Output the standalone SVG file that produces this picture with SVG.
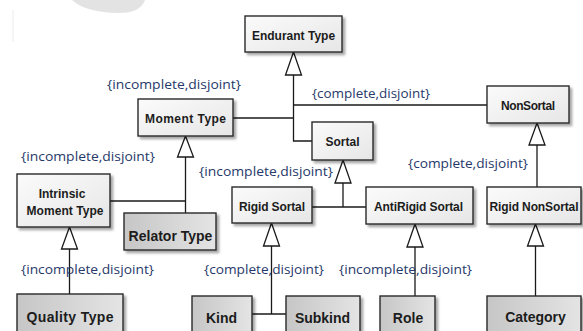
<svg xmlns="http://www.w3.org/2000/svg" width="583" height="331" viewBox="0 0 583 331">
  <defs>
    <linearGradient id="lightFill" x1="0" y1="0" x2="1" y2="1">
      <stop offset="0" stop-color="#fbfbfb"/>
      <stop offset="1" stop-color="#e6e6e6"/>
    </linearGradient>
    <linearGradient id="darkFill" x1="0" y1="0" x2="1" y2="0">
      <stop offset="0" stop-color="#c6c6c6"/>
      <stop offset="1" stop-color="#e4e4e4"/>
    </linearGradient>
    <filter id="shadow" x="-10%" y="-10%" width="130%" height="140%">
      <feDropShadow dx="2.5" dy="2.5" stdDeviation="1" flood-color="#000" flood-opacity="0.35"/>
    </filter>
  </defs>
  <style>
    .box { stroke: #2a2a2a; stroke-width: 1.4; filter: url(#shadow); }
    .light { fill: url(#lightFill); }
    .dark { fill: url(#darkFill); }
    .name { font-family: "Liberation Sans", Arial, sans-serif; font-weight: bold; font-size: 12px; fill: #1c1c1c; text-anchor: middle; }
    .big { font-size: 14px; }
    .set { font-family: "Open Sans", "DejaVu Sans", sans-serif; font-size: 12.5px; fill: #27396a; }
    .edge { fill: none; stroke: #1a1a1a; stroke-width: 1.3; }
    .tri { fill: #ffffff; stroke: #1a1a1a; stroke-width: 1.3; stroke-linejoin: miter; }
  </style>

  <rect width="583" height="331" fill="#ffffff"/>

  <!-- faint page marks in the upper left corner -->
  <path d="M72 0 C80 8 98 13 118 13 C132 13 141 10 145 0 Z" fill="#e3e3e3"/>
  <line x1="13" y1="10" x2="13" y2="42" stroke="#ececec" stroke-width="1"/>

  <!-- generalization connectors -->
  <g id="connectors">
    <!-- Endurant Type specializations -->
    <polygon class="tri" points="293.5,52 285.5,75 301.5,75"/>
    <path class="edge" d="M293.5 75 V141 H312"/>
    <path class="edge" d="M233 118 H293.5"/>
    <path class="edge" d="M293.5 105 H487"/>
    <!-- Moment Type specializations -->
    <polygon class="tri" points="185.5,136 177.5,157 193.5,157"/>
    <path class="edge" d="M185.5 157 V213"/>
    <path class="edge" d="M110 201 H185.5"/>
    <!-- Intrinsic Moment Type specializations -->
    <polygon class="tri" points="69.5,227 61.5,249 77.5,249"/>
    <path class="edge" d="M69.5 249 V294"/>
    <!-- Sortal specializations -->
    <polygon class="tri" points="343,160 335,183 351,183"/>
    <path class="edge" d="M343 183 V207"/>
    <path class="edge" d="M312 207 H366"/>
    <!-- Rigid Sortal specializations -->
    <polygon class="tri" points="271.5,223 263.5,246 279.5,246"/>
    <path class="edge" d="M271.5 246 V314"/>
    <path class="edge" d="M252 314 H286"/>
    <!-- AntiRigid Sortal specializations -->
    <polygon class="tri" points="415,224 407,247 423,247"/>
    <path class="edge" d="M415 247 V296"/>
    <!-- NonSortal specializations -->
    <polygon class="tri" points="537,123 529,145 545,145"/>
    <path class="edge" d="M537 145 V187"/>
    <!-- Rigid NonSortal specializations -->
    <polygon class="tri" points="535.5,224 527.5,246 543.5,246"/>
    <path class="edge" d="M535.5 246 V296"/>
  </g>

  <!-- generalization set constraints -->
  <g id="constraints">
    <text class="set" x="107" y="89" textLength="134" lengthAdjust="spacingAndGlyphs">{incomplete,disjoint}</text>
    <text class="set" x="312" y="98" textLength="118" lengthAdjust="spacingAndGlyphs">{complete,disjoint}</text>
    <text class="set" x="21" y="161" textLength="134" lengthAdjust="spacingAndGlyphs">{incomplete,disjoint}</text>
    <text class="set" x="199" y="176" textLength="134" lengthAdjust="spacingAndGlyphs">{incomplete,disjoint}</text>
    <text class="set" x="408" y="168" textLength="120" lengthAdjust="spacingAndGlyphs">{complete,disjoint}</text>
    <text class="set" x="21" y="274" textLength="133" lengthAdjust="spacingAndGlyphs">{incomplete,disjoint}</text>
    <text class="set" x="204" y="274" textLength="120" lengthAdjust="spacingAndGlyphs">{complete,disjoint}</text>
    <text class="set" x="339" y="274" textLength="133" lengthAdjust="spacingAndGlyphs">{incomplete,disjoint}</text>
  </g>

  <g id="endurant-type">
    <rect class="box light" x="245" y="16" width="97" height="36"/>
    <text class="name" x="293.5" y="39.5">Endurant Type</text>
  </g>
  <g id="moment-type">
    <rect class="box light" x="138" y="99" width="95" height="37"/>
    <text class="name" x="185.5" y="123" textLength="81">Moment Type</text>
  </g>
  <g id="sortal">
    <rect class="box light" x="312" y="122" width="61" height="38"/>
    <text class="name" x="342.5" y="146">Sortal</text>
  </g>
  <g id="nonsortal">
    <rect class="box light" x="487" y="86" width="82" height="37"/>
    <text class="name" x="528" y="110" textLength="54">NonSortal</text>
  </g>
  <g id="intrinsic-moment-type">
    <rect class="box light" x="17" y="174" width="93" height="53"/>
    <text class="name" x="62" y="198">Intrinsic</text>
    <text class="name" x="65" y="215" textLength="77">Moment Type</text>
  </g>
  <g id="relator-type">
    <rect class="box dark" x="124" y="213" width="92" height="37"/>
    <text class="name big" x="170.5" y="241">Relator Type</text>
  </g>
  <g id="rigid-sortal">
    <rect class="box light" x="232" y="187" width="80" height="36"/>
    <text class="name" x="272" y="211" textLength="66">Rigid Sortal</text>
  </g>
  <g id="antirigid-sortal">
    <rect class="box light" x="366" y="187" width="107" height="37"/>
    <text class="name" x="418.5" y="211" textLength="89">AntiRigid Sortal</text>
  </g>
  <g id="rigid-nonsortal">
    <rect class="box light" x="487" y="187" width="94" height="37"/>
    <text class="name" x="534" y="211" textLength="89">Rigid NonSortal</text>
  </g>
  <g id="quality-type">
    <rect class="box dark" x="17" y="294" width="106" height="50"/>
    <text class="name big" x="70" y="322" textLength="87">Quality Type</text>
  </g>
  <g id="kind">
    <rect class="box dark" x="192" y="296" width="60" height="48"/>
    <text class="name big" x="221.5" y="323">Kind</text>
  </g>
  <g id="subkind">
    <rect class="box dark" x="286" y="296" width="74" height="48"/>
    <text class="name big" x="322.5" y="323">Subkind</text>
  </g>
  <g id="role">
    <rect class="box dark" x="380" y="296" width="55" height="48"/>
    <text class="name big" x="408" y="323">Role</text>
  </g>
  <g id="category">
    <rect class="box dark" x="487" y="296" width="94" height="48"/>
    <text class="name big" x="535.5" y="322">Category</text>
  </g>
</svg>
